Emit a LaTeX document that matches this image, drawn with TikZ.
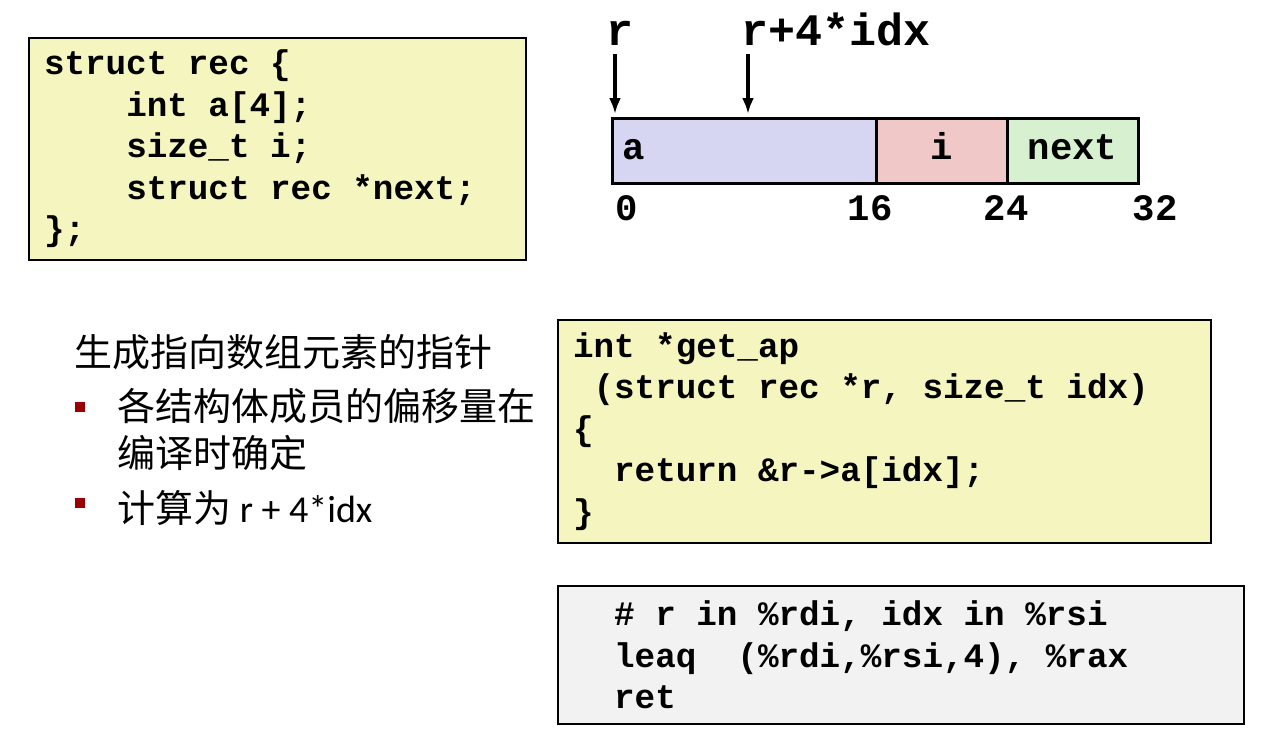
\documentclass[tikz,border=0pt]{standalone}
\usepackage{fontspec}
\setmainfont{Carlito}
\setmonofont{Liberation Mono}
\newfontfamily\cjk{Noto Sans CJK SC}
\usetikzlibrary{positioning, arrows.meta}
\definecolor{codeyellow}{HTML}{F5F5BF}
\definecolor{asmgray}{HTML}{F2F2F2}
\definecolor{fieldblue}{HTML}{D6D6F2}
\definecolor{fieldpink}{HTML}{F0C8C8}
\definecolor{fieldgreen}{HTML}{D6F0D0}
\definecolor{bulletred}{HTML}{990000}
% monospaced spaces as wide as one character
\newcommand{\fixspace}{\frenchspacing\settowidth{\spaceskip}{x}\xspaceskip=\spaceskip}
\newcommand{\codefont}{\ttfamily\bfseries\fontsize{25.7}{31.1}\selectfont}
\newcommand{\memfont}{\ttfamily\bfseries\fontsize{28}{34}\selectfont}
\newcommand{\ptrfont}{\ttfamily\bfseries\fontsize{33.8}{40}\selectfont}
\newcommand{\cnfont}{\cjk\fontsize{28.5}{35.3}\selectfont}
\tikzset{
	codebox/.style={
			draw=black,
			line width=1.5pt,
			fill=codeyellow,
			anchor=north west,
			outer sep=0pt,
			inner xsep=11.25pt,
			align=left,
			font=\codefont
		},
	asmbox/.style={
			codebox,
			fill=asmgray
		},
	field/.style={
			draw=black,
			line width=2.25pt,
			outer sep=0pt,
			minimum height=48.75pt,
			text height=20pt,
			text depth=5.8pt,
			font=\memfont
		},
	offset/.style={
			font=\memfont,
			inner sep=0pt
		},
	ptrlabel/.style={
			font=\ptrfont,
			anchor=base,
			inner sep=0pt
		},
	ptr/.style={
			line width=2.6pt,
			-{Latex[length=12pt,width=9pt]}
		},
	cntext/.style={
			font=\cnfont,
			anchor=west,
			inner sep=0pt,
			align=left
		},
	bullet/.style={
			fill=bulletred,
			minimum size=7.5pt,
			inner sep=0pt
		}
}
\begin{document}
\begin{tikzpicture}[x=0.75pt, y=-0.75pt]
\useasboundingbox (0,0) rectangle (1263,746);

% struct declaration
\node[codebox, text width=350.25pt, minimum height=166.5pt] (recdecl) at (29,38)
  {\fixspace struct rec \{\\
   \hphantom{xxxx}int a[4];\\
   \hphantom{xxxx}size\_t i;\\
   \hphantom{xxxx}struct rec *next;\\
   \};};

% memory layout
\node[field, fill=fieldblue, anchor=north west, minimum width=198pt,
      inner xsep=7.5pt, text width=183pt, align=left] (fa) at (612,118) {a};
\node[field, fill=fieldpink, minimum width=98.25pt, right=0pt of fa] (fi) {i};
\node[field, fill=fieldgreen, minimum width=98.25pt, right=0pt of fi] (fnext) {next};

\node[offset] (o0) at (627,208) {0};
\node[offset] (o16) at (870,208) {16};
\node[offset] (o24) at (1006,208) {24};
\node[offset] (o32) at (1155,208) {32};

\node[ptrlabel] (lr) at (620,45) {r};
\node[ptrlabel] (lridx) at (836,45) {r+4*idx};
\coordinate (rtail) at (615,54);
\coordinate (rtip) at (615,114);
\coordinate (idxtail) at (748,54);
\coordinate (idxtip) at (748,114);
\draw[ptr] (rtail) -- (rtip);
\draw[ptr] (idxtail) -- (idxtip);

% explanation
\node[cntext] (title) at (74,352) {生成指向数组元素的指针};
\node[bullet] (b1) at (80,407) {};
\node[bullet] (b2) at (80,503) {};
\node[cntext] (item1) at (117,429.5) {各结构体成员的偏移量在\\编译时确定};
\node[cntext] (item2) at (117,508) {计算为 {\rmfamily r + 4*idx}};

% C function
\node[codebox, text width=467.25pt, minimum height=167.25pt] (getap) at (558,320)
  {\fixspace int *get\_ap\\
   \hphantom{x}(struct rec *r, size\_t idx)\\
   \{\\
   \hphantom{xx}return \&r->a[idx];\\
   \}};

% assembly
\node[asmbox, text width=492pt, minimum height=103.5pt] (asm) at (558,586)
  {\fixspace\hphantom{xx}\# r in \%rdi, idx in \%rsi\\
   \hphantom{xx}leaq~~(\%rdi,\%rsi,4), \%rax\\
   \hphantom{xx}ret};

\end{tikzpicture}
\end{document}
